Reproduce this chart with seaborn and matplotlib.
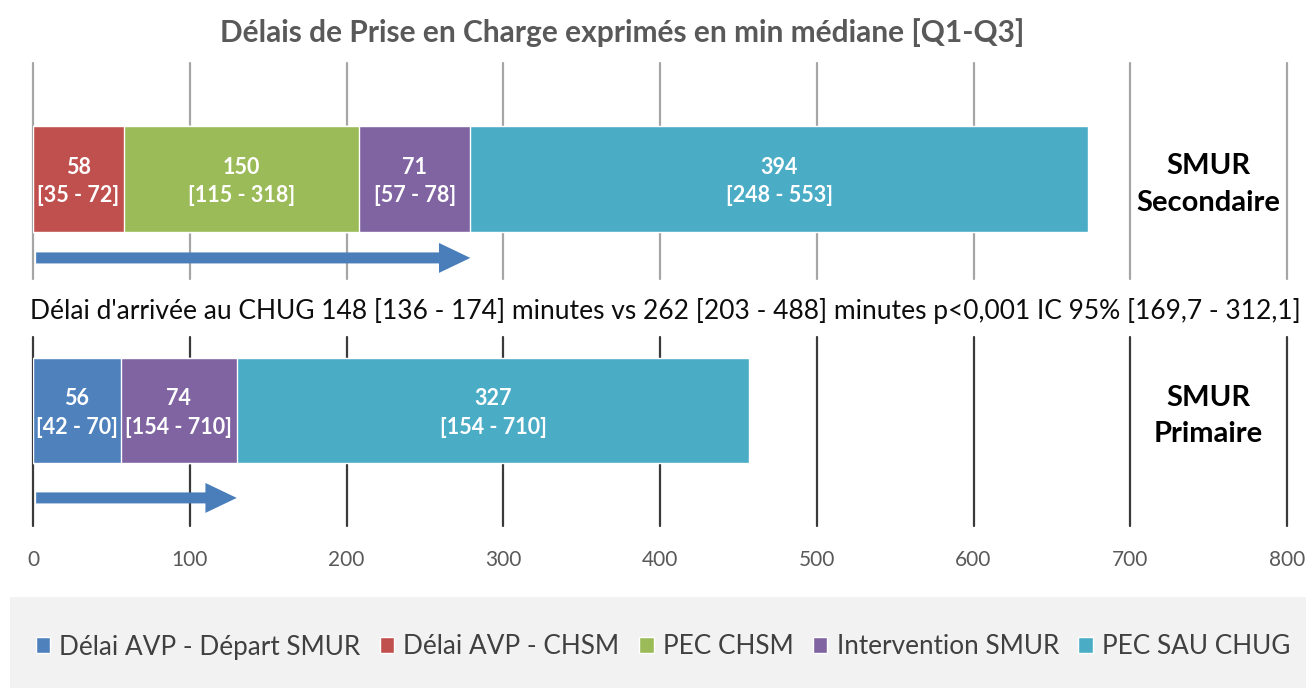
import matplotlib.pyplot as plt
import matplotlib.patches as mpatches
import pandas as pd
import seaborn as sns

# --- data ---
series = ['Délai AVP - Départ SMUR', 'Délai AVP - CHSM', 'PEC CHSM',
          'Intervention SMUR', 'PEC SAU CHUG']
colors = ['#4F81BD', '#C0504D', '#9BBB59', '#8064A2', '#4BACC6']

sec_series = ['Délai AVP - CHSM', 'PEC CHSM', 'Intervention SMUR', 'PEC SAU CHUG']
sec_median = [58, 150, 71, 394]
sec_q1q3 = ['[35 - 72]', '[115 - 318]', '[57 - 78]', '[248 - 553]']

prim_series = ['Délai AVP - Départ SMUR', 'Intervention SMUR', 'PEC SAU CHUG']
prim_median = [56, 74, 327]
prim_q1q3 = ['[42 - 70]', '[154 - 710]', '[154 - 710]']

row_labels = ['SMUR\nSecondaire', 'SMUR\nPrimaire']
arrow_segments = [3, 2]   # arrow covers the first n segments of each bar
xticks = [0, 100, 200, 300, 400, 500, 600, 700, 800]

title = 'Délais de Prise en Charge exprimés en min médiane [Q1-Q3]'
note = ("Délai d'arrivée au CHUG 148 [136 - 174] minutes vs 262 [203 - 488] "
        "minutes p<0,001 IC 95% [169,7 - 312,1]")

palette = dict(zip(series, colors))

sns.set_theme(style='white')
plt.rcParams['font.family'] = ['Lato', 'DejaVu Sans']

W, H = 1306, 688
fig = plt.figure(figsize=(W / 100, H / 100), dpi=100)


def px_axes(top, bottom):
    return fig.add_axes([33 / W, 1 - bottom / H, 1254 / W, (bottom - top) / H])


def draw_row(ax, label, names, medians, q1q3, n_arrow, ylim, arrow_y, grid_color):
    df = pd.DataFrame({'serie': names, 'median': medians, 'q': q1q3})
    df['end'] = df['median'].cumsum()
    df['row'] = label
    # stacked bars: draw cumulative totals, longest first
    for i in range(len(df) - 1, -1, -1):
        sns.barplot(data=df.iloc[[i]], x='end', y='row', orient='h',
                    color=palette[df.loc[i, 'serie']], saturation=1, width=0.8,
                    edgecolor='white', linewidth=1.0, errorbar=None, ax=ax)
    for _, r in df.iterrows():
        ax.text(r['end'] - r['median'] / 2, 0.02, f"{r['median']}\n{r['q']}",
                ha='center', va='center', color='white', fontsize=15.5,
                fontweight='bold', linespacing=1.45)
    ax.text(750, 0.04, label, ha='center', va='center', fontsize=21,
            fontweight='bold', color='black', linespacing=1.5)

    end = df['end'].iloc[n_arrow - 1]
    ax.arrow(2, arrow_y, end - 2, 0, width=0.083, head_width=0.226,
             head_length=20, length_includes_head=True, color='#4a7ebb', lw=0,
             zorder=5)

    ax.set_xlim(0, 800)
    ax.set_ylim(*ylim)
    ax.set_xticks(xticks)
    ax.set_yticks([])
    ax.set_xlabel('')
    ax.set_ylabel('')
    ax.xaxis.grid(True, color=grid_color, lw=1.6)
    ax.set_axisbelow(True)
    for gl in ax.get_xgridlines():
        gl.set_clip_on(False)
    sns.despine(ax=ax, left=True, bottom=True)
    ax.tick_params(axis='x', length=0)


ax_top = px_axes(63, 279)
draw_row(ax_top, row_labels[0], sec_series, sec_median, sec_q1q3,
         arrow_segments[0], (0.755, -0.875), 0.596, '#a6a6a6')
ax_top.tick_params(axis='x', labelbottom=False)

ax_bot = px_axes(337, 526)
draw_row(ax_bot, row_labels[1], prim_series, prim_median, prim_q1q3,
         arrow_segments[1], (0.872, -0.555), 0.660, '#3a3a3a')
ax_bot.tick_params(axis='x', labelsize=15, labelcolor='#595959', pad=17)

fig.text(622 / W, 1 - 33 / H, title, ha='center', va='center', fontsize=21.5,
         fontweight='bold', color='#595959')
fig.text(665 / W, 1 - 311 / H, note, ha='center', va='center', fontsize=19,
         color='#0d0d0d')

# legend band
fig.patches.append(mpatches.Rectangle((10 / W, 0), 1 - 10 / W, 91 / H,
                                      transform=fig.transFigure,
                                      facecolor='#f2f2f2', edgecolor='none',
                                      zorder=0))
handles = [mpatches.Patch(facecolor=c, edgecolor='white', lw=1) for c in colors]
fig.legend(handles, series, loc='center', bbox_to_anchor=(663 / W, 1 - 647 / H),
           ncol=5, frameon=False, fontsize=18.8, labelcolor='#404040',
           handlelength=0.55, handleheight=0.55, handletextpad=0.35,
           columnspacing=0.75)

fig.savefig('out.png', dpi=100)
